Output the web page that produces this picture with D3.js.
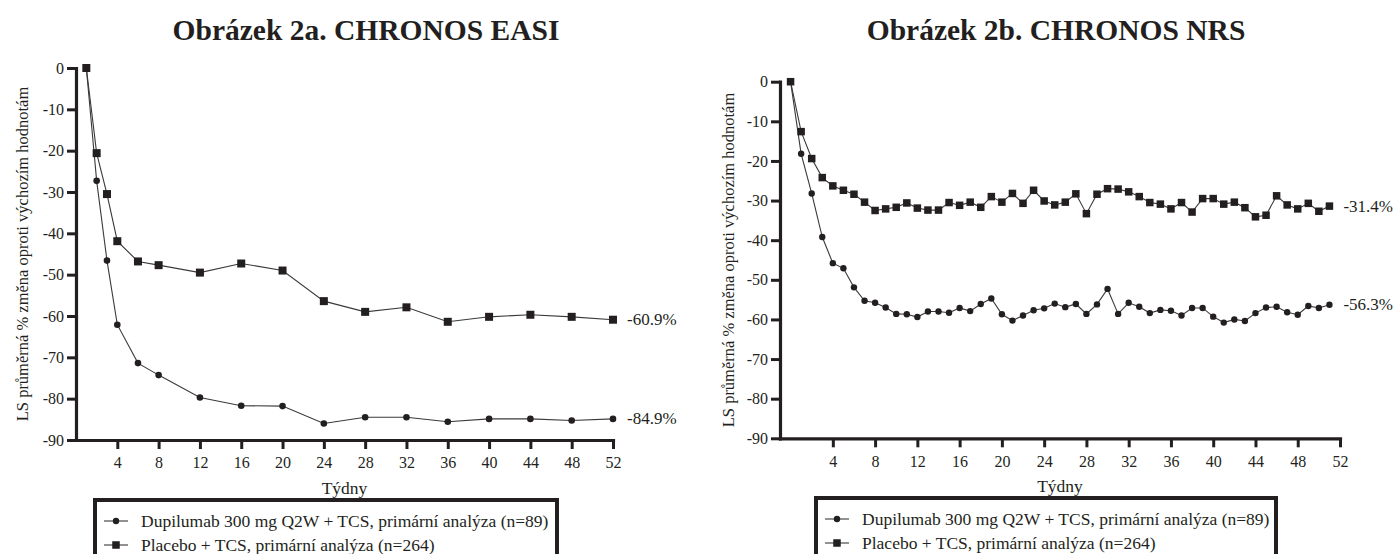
<!DOCTYPE html>
<html>
<head>
<meta charset="utf-8">
<script src="https://cdn.jsdelivr.net/npm/d3@7"></script>
<style>
  html, body { margin: 0; padding: 0; background: #fff; }
  svg { display: block; }
  text { font-family: "Liberation Serif", "Times New Roman", serif; fill: #231f20; }
</style>
</head>
<body>
<svg id="chart" width="1397" height="554"></svg>
<script>
// ---- Data ----
const yTicks = [0, -10, -20, -30, -40, -50, -60, -70, -80, -90];
const xTicks = [4, 8, 12, 16, 20, 24, 28, 32, 36, 40, 44, 48, 52];

// EASI: LS mean % change from baseline
const easiWeeks = [1, 2, 3, 4, 6, 8, 12, 16, 20, 24, 28, 32, 36, 40, 44, 48, 52];
const easiDupilumab = [0, -27.3, -46.6, -62.1, -71.4, -74.3, -79.7, -81.7, -81.8, -86.0, -84.5, -84.5, -85.6, -84.9, -84.9, -85.3, -84.9];
const easiPlacebo = [0, -20.6, -30.5, -41.9, -46.8, -47.7, -49.5, -47.3, -49.0, -56.4, -59.0, -57.9, -61.4, -60.2, -59.7, -60.2, -60.9];

// NRS (weekly): LS mean % change from baseline
const nrsWeeks = d3.range(0, 52);
const nrsDupilumab = [0, -18.2, -28.2, -39.2, -45.8, -47.1, -51.9, -55.3, -55.8, -57.0,
  -58.6, -58.7, -59.4, -58.0, -58.0, -58.3, -57.1, -57.9, -56.1, -54.7,
  -58.7, -60.3, -59.0, -57.7, -57.2, -56.0, -56.9, -56.1, -58.6, -56.2,
  -52.3, -58.6, -55.8, -56.8, -58.4, -57.6, -57.8, -59.0, -57.1, -57.1,
  -59.3, -60.8, -60.0, -60.4, -58.4, -57.0, -56.8, -58.2, -58.8, -56.6,
  -57.1, -56.3];
const nrsPlacebo = [0, -12.6, -19.4, -24.2, -26.3, -27.4, -28.4, -30.4, -32.5, -32.1,
  -31.7, -30.6, -31.9, -32.4, -32.4, -30.5, -31.2, -30.4, -31.7, -29.0,
  -30.4, -28.2, -30.7, -27.4, -30.1, -31.1, -30.4, -28.3, -33.3, -28.4,
  -27.0, -27.1, -27.8, -29.0, -30.5, -30.9, -32.1, -30.5, -32.9, -29.5,
  -29.5, -30.9, -30.4, -31.8, -34.1, -33.7, -28.8, -31.1, -32.1, -30.7,
  -32.7, -31.4];

const titles = ["Obrázek 2a. CHRONOS EASI", "Obrázek 2b. CHRONOS NRS"];
const yAxisTitle = "LS průměrná % změna oproti výchozím hodnotám";
const xAxisTitle = "Týdny";
const legendLabels = [
  "Dupilumab 300 mg Q2W + TCS, primární analýza (n=89)",
  "Placebo + TCS, primární analýza (n=264)"
];

const svg = d3.select("#chart");

function drawPanel(opt) {
  const g = svg.append("g");
  const x = d3.scaleLinear().domain(opt.xDomain).range([opt.left, opt.right]);
  const y = d3.scaleLinear().domain([-90, 0]).range([opt.bottom, opt.top]);

  // title
  g.append("text")
    .attr("x", opt.titleX).attr("y", 40)
    .attr("text-anchor", "middle")
    .style("font-size", "29.5px").style("font-weight", "bold")
    .text(opt.title);

  // y axis
  const ya = g.append("g").attr("transform", `translate(${opt.left},0)`)
    .call(d3.axisLeft(y).tickValues(yTicks).tickFormat(d => String(d))
      .tickSize(9).tickSizeOuter(0).tickPadding(3));
  // x axis
  const xa = g.append("g").attr("transform", `translate(0,${opt.bottom})`)
    .call(d3.axisBottom(x).tickValues(xTicks).tickFormat(d => String(d))
      .tickSize(9).tickSizeOuter(0).tickPadding(8));
  [ya, xa].forEach(a => {
    a.attr("font-family", null);
    a.select(".domain").attr("stroke", "#231f20").attr("stroke-width", 3.2).attr("stroke-linecap", "square");
    a.selectAll(".tick line").attr("stroke", "#231f20").attr("stroke-width", 3);
    a.selectAll(".tick text").style("font-size", "16px").attr("fill", "#231f20");
  });

  // axis titles
  g.append("text")
    .attr("transform", `translate(${opt.yTitleX},${(opt.top + opt.bottom) / 2}) rotate(-90)`)
    .attr("text-anchor", "middle").attr("dominant-baseline", "central")
    .style("font-size", "16.5px")
    .text(yAxisTitle);
  g.append("text")
    .attr("x", (opt.left + opt.right) / 2).attr("y", opt.bottom + 54)
    .attr("text-anchor", "middle")
    .style("font-size", "17.5px")
    .text(xAxisTitle);

  const line = d3.line().x(d => x(d[0])).y(d => y(d[1]));
  const series = [
    { values: opt.dupilumab, shape: "circle" },
    { values: opt.placebo, shape: "square" }
  ];
  series.forEach(s => {
    const pts = opt.weeks.map((w, i) => [w, s.values[i]]);
    g.append("path").datum(pts)
      .attr("fill", "none").attr("stroke", "#3a3a3a").attr("stroke-width", 1.1)
      .attr("d", line);
    if (s.shape === "circle") {
      g.selectAll(null).data(pts).enter().append("circle")
        .attr("cx", d => x(d[0])).attr("cy", d => y(d[1]))
        .attr("r", opt.r).attr("fill", "#231f20");
    } else {
      g.selectAll(null).data(pts).enter().append("rect")
        .attr("x", d => x(d[0]) - opt.sq / 2).attr("y", d => y(d[1]) - opt.sq / 2)
        .attr("width", opt.sq).attr("height", opt.sq).attr("fill", "#231f20");
    }
    const last = pts[pts.length - 1];
    g.append("text")
      .attr("x", x(last[0]) + 14).attr("y", y(last[1]))
      .attr("dominant-baseline", "central")
      .style("font-size", "17px")
      .text(last[1].toFixed(1) + "%");
  });

  // legend
  const lg = g.append("g");
  lg.append("rect")
    .attr("x", opt.legX).attr("y", opt.legY)
    .attr("width", opt.legW).attr("height", 90)
    .attr("fill", "none").attr("stroke", "#231f20").attr("stroke-width", 4);
  legendLabels.forEach((lbl, i) => {
    const cy = opt.legY + 21 + i * 24;
    const mx = opt.legX + 21;
    lg.append("line").attr("x1", mx - 12).attr("x2", mx + 12)
      .attr("y1", cy).attr("y2", cy).attr("stroke", "#3a3a3a").attr("stroke-width", 1.1);
    if (i === 0) {
      lg.append("circle").attr("cx", mx).attr("cy", cy).attr("r", 3.2).attr("fill", "#231f20");
    } else {
      lg.append("rect").attr("x", mx - 3.75).attr("y", cy - 3.75)
        .attr("width", 7.5).attr("height", 7.5).attr("fill", "#231f20");
    }
    lg.append("text").attr("x", opt.legX + 46).attr("y", cy)
      .attr("dominant-baseline", "central")
      .style("font-size", "17.5px")
      .text(lbl);
  });
}

drawPanel({
  title: titles[0], titleX: 366,
  xDomain: [0, 52], left: 76, right: 613, top: 68, bottom: 440,
  yTitleX: 22,
  weeks: easiWeeks, dupilumab: easiDupilumab, placebo: easiPlacebo,
  r: 3.3, sq: 8,
  legX: 95, legY: 500, legW: 462
});

drawPanel({
  title: titles[1], titleX: 1056,
  xDomain: [-1, 52], left: 780, right: 1340, top: 81.7, bottom: 438.3,
  yTitleX: 728,
  weeks: nrsWeeks, dupilumab: nrsDupilumab, placebo: nrsPlacebo,
  r: 3.2, sq: 7.5,
  legX: 816, legY: 498, legW: 460
});
</script>
</body>
</html>
